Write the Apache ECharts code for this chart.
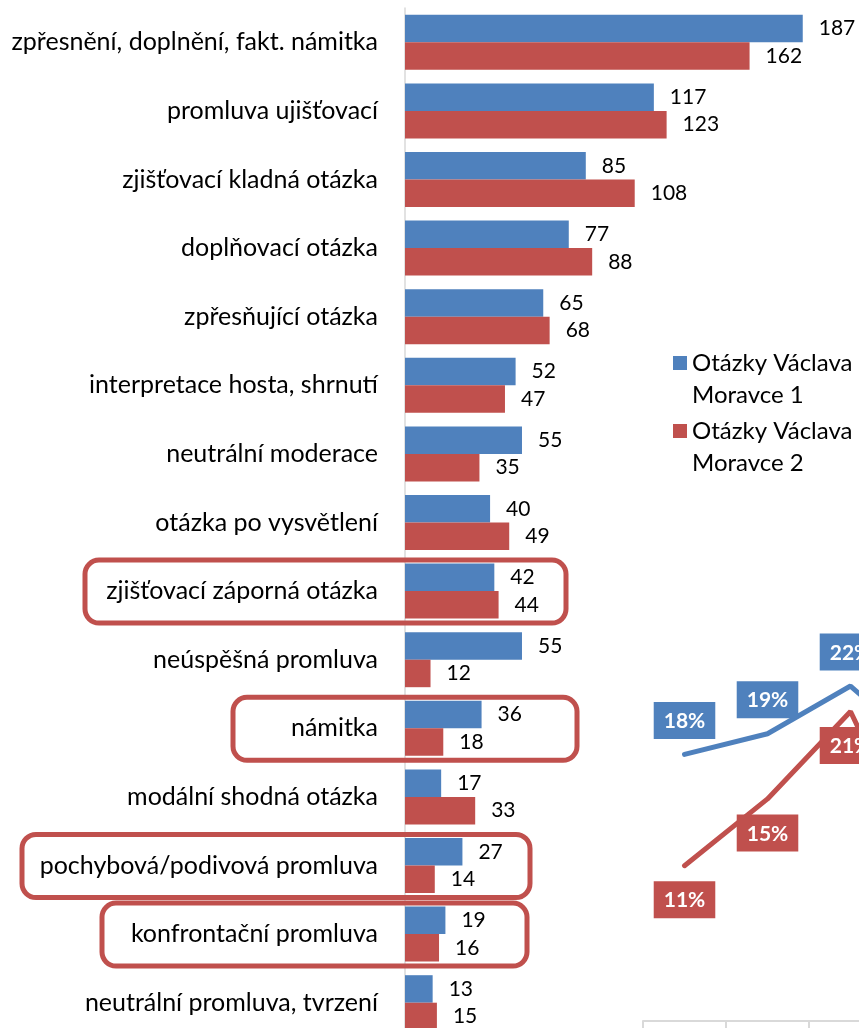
<!DOCTYPE html>
<html>
<head>
<meta charset="utf-8">
<script src="https://cdn.jsdelivr.net/npm/echarts@6/dist/echarts.min.js"></script>
<style>
  html, body { margin: 0; padding: 0; background: #fff; }
  #chart { width: 859px; height: 1028px; }
</style>
</head>
<body>
<div id="chart"></div>
<script>
// bar chart data
var categories = [
  'zpřesnění, doplnění, fakt. námitka',
  'promluva ujišťovací',
  'zjišťovací kladná otázka',
  'doplňovací otázka',
  'zpřesňující otázka',
  'interpretace hosta, shrnutí',
  'neutrální moderace',
  'otázka po vysvětlení',
  'zjišťovací záporná otázka',
  'neúspěšná promluva',
  'námitka',
  'modální shodná otázka',
  'pochybová/podivová promluva',
  'konfrontační promluva',
  'neutrální promluva, tvrzení'
];
var seriesNames = ['Otázky Václava\nMoravce 1', 'Otázky Václava\nMoravce 2'];
var values1 = [187, 117, 85, 77, 65, 52, 55, 40, 42, 55, 36, 17, 27, 19, 13];
var values2 = [162, 123, 108, 88, 68, 47, 35, 49, 44, 12, 18, 33, 14, 16, 15];

// inset line chart (partly outside the picture)
var lineCats = ['1', '2', '3', '4'];
var share1 = [17.9, 19.2, 22.2, 17.6];
var share2 = [10.9, 15.1, 20.6, 9.6];

// categories circled in red
var highlighted = [
  { name: 'zjišťovací záporná otázka', x1: 85, x2: 566 },
  { name: 'námitka', x1: 233, x2: 577 },
  { name: 'pochybová/podivová promluva', x1: 22, x2: 530 },
  { name: 'konfrontační promluva', x1: 102, x2: 527 }
];

var BLUE = '#4F81BD';
var RED = '#C0504D';
var FONT = 'Lato';

var chartDom = document.getElementById('chart');
var myChart = echarts.init(chartDom);

function pctLabel(color, pos) {
  return {
    show: true,
    position: pos,
    distance: 15,
    formatter: function (p) { return Math.round(p.value) + '%'; },
    backgroundColor: color,
    color: '#fff',
    fontFamily: FONT,
    fontWeight: 'bold',
    fontSize: 21,
    lineHeight: 21,
    padding: [9, 10, 7, 10]
  };
}

var option = {
  animation: false,
  backgroundColor: '#fff',
  legend: {
    orient: 'vertical',
    left: 673,
    top: 315,
    padding: 0,
    itemWidth: 14,
    itemHeight: 14,
    itemGap: -28,
    icon: 'rect',
    data: seriesNames,
    formatter: function (n) { return '\n' + n; },
    textStyle: { fontFamily: FONT, fontSize: 24, lineHeight: 32, color: '#000' }
  },
  grid: [
    { left: 405, top: 8, width: 425.4, height: 1029, outerBoundsMode: 'none' },
    { left: 643, top: 403, width: 332, height: 636, outerBoundsMode: 'none' }
  ],
  xAxis: [
    { type: 'value', gridIndex: 0, min: 0, max: 200, show: false },
    {
      type: 'category', gridIndex: 1, data: lineCats, boundaryGap: true,
      offset: -18,
      axisLine: { onZero: false, lineStyle: { color: '#d9d9d9', width: 2 } },
      axisTick: { show: true, length: 10, lineStyle: { color: '#d9d9d9', width: 2 } },
      axisLabel: { show: false },
      splitLine: { show: false }
    }
  ],
  yAxis: [
    {
      type: 'category', gridIndex: 0, data: categories, inverse: true,
      axisLine: { show: true, lineStyle: { color: '#d9d9d9', width: 1.5 } },
      axisTick: { show: false },
      axisLabel: { margin: 27, fontFamily: FONT, fontSize: 25, color: '#000' }
    },
    { type: 'value', gridIndex: 1, min: 0, max: 40, show: false }
  ],
  series: [
    {
      name: seriesNames[0], type: 'bar', xAxisIndex: 0, yAxisIndex: 0,
      data: values1, barWidth: 27.5, barGap: '0%',
      itemStyle: { color: BLUE },
      label: { show: true, position: 'right', distance: 16, fontFamily: FONT, fontSize: 21, color: '#000' }
    },
    {
      name: seriesNames[1], type: 'bar', xAxisIndex: 0, yAxisIndex: 0,
      data: values2, barWidth: 27.5, barGap: '0%',
      itemStyle: { color: RED },
      label: { show: true, position: 'right', distance: 16, fontFamily: FONT, fontSize: 21, color: '#000' }
    },
    {
      name: 'share1', type: 'line', xAxisIndex: 1, yAxisIndex: 1,
      data: share1, symbol: 'circle', symbolSize: 1,
      itemStyle: { color: BLUE },
      lineStyle: { color: BLUE, width: 5, cap: 'round' },
      label: pctLabel(BLUE, 'top')
    },
    {
      name: 'share2', type: 'line', xAxisIndex: 1, yAxisIndex: 1,
      data: share2, symbol: 'circle', symbolSize: 1,
      itemStyle: { color: RED },
      lineStyle: { color: RED, width: 5, cap: 'round' },
      label: pctLabel(RED, 'bottom')
    }
  ]
};

option && myChart.setOption(option);

// red rounded boxes round the highlighted categories
var boxes = highlighted.map(function (h) {
  var cy = myChart.convertToPixel({ yAxisIndex: 0 }, h.name);
  return {
    type: 'rect',
    z: 100,
    shape: { x: h.x1, y: cy - 31, width: h.x2 - h.x1, height: 63, r: 14 },
    style: { fill: null, stroke: RED, lineWidth: 5 }
  };
});
myChart.setOption({ graphic: boxes });
</script>
</body>
</html>
